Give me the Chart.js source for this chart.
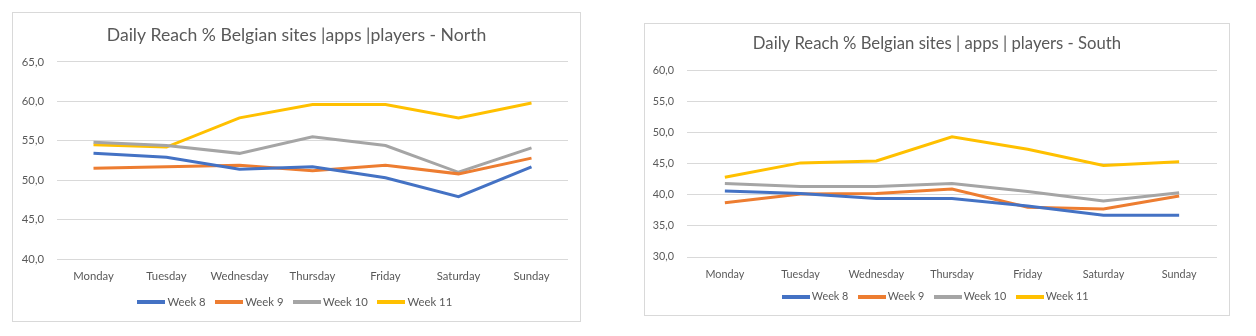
<!DOCTYPE html>
<html>
<head>
<meta charset="utf-8">
<script src="https://cdn.jsdelivr.net/npm/chart.js@4"></script>
<style>
  body { margin: 0; background: #fff; width: 1256px; height: 336px; position: relative; overflow: hidden; }
  .chartBox { position: absolute; border: 1px solid #d9d9d9; box-sizing: border-box; background: #fff; }
  #northBox { left: 12px; top: 12px; width: 569px; height: 310px; }
  #southBox { left: 644px; top: 23px; width: 586px; height: 293px; }
</style>
</head>
<body>
<div class="chartBox" id="northBox"><canvas id="north"></canvas></div>
<div class="chartBox" id="southBox"><canvas id="south"></canvas></div>
<script>
const days = ["Monday", "Tuesday", "Wednesday", "Thursday", "Friday", "Saturday", "Sunday"];
const weeks = ["Week 8", "Week 9", "Week 10", "Week 11"];
const colors = ["#4472C4", "#ED7D31", "#A5A5A5", "#FFC000"];

const northWeek8 = [53.4, 52.9, 51.4, 51.7, 50.3, 47.9, 51.7];
const northWeek9 = [51.5, 51.7, 51.9, 51.2, 51.9, 50.8, 52.8];
const northWeek10 = [54.8, 54.4, 53.4, 55.5, 54.4, 51.0, 54.1];
const northWeek11 = [54.5, 54.2, 57.9, 59.6, 59.6, 57.9, 59.8];

const southWeek8 = [40.6, 40.2, 39.4, 39.4, 38.2, 36.7, 36.7];
const southWeek9 = [38.7, 40.1, 40.2, 40.9, 38.0, 37.7, 39.8];
const southWeek10 = [41.8, 41.3, 41.3, 41.8, 40.5, 39.0, 40.3];
const southWeek11 = [42.8, 45.1, 45.4, 49.3, 47.3, 44.7, 45.3];

const textColor = "#595959";
const fontFamily = "Lato, 'Open Sans', sans-serif";

// legend marker: a short thick line, drawn as a small canvas
function lineMarker(color) {
  const c = document.createElement("canvas");
  c.width = 28;
  c.height = 4;
  const g = c.getContext("2d");
  g.fillStyle = color;
  g.fillRect(0, 0, 28, 4);
  return c;
}

// moves the legend to a fixed y after layout
const legendShift = {
  id: "legendShift",
  afterLayout(chart, args, opts) {
    if (opts.top == null) return;
    const h = chart.legend.height;
    chart.legend.top = opts.top;
    chart.legend.bottom = opts.top + h;
  }
};

function makeChart(id, title, series, yMin, yMax, lay) {
  const ctx = document.getElementById(id).getContext("2d");
  const fs = lay.fontSize;
  return new Chart(ctx, {
    type: "line",
    plugins: [legendShift],
    data: {
      labels: days,
      datasets: series.map((values, i) => ({
        label: weeks[i],
        data: values,
        borderColor: colors[i],
        backgroundColor: colors[i],
        borderWidth: 3,
        pointRadius: 0,
        pointStyle: lineMarker(colors[i]),
        tension: 0
      }))
    },
    options: {
      responsive: true,
      maintainAspectRatio: false,
      animation: false,
      layout: { padding: 0 },
      plugins: {
        title: {
          display: true,
          text: title,
          color: textColor,
          font: { family: fontFamily, size: lay.titleSize, weight: "normal" },
          padding: { top: lay.titleTop, bottom: lay.titleBottom }
        },
        legend: {
          position: "bottom",
          maxHeight: 30,
          labels: {
            color: textColor,
            font: { family: fontFamily, size: fs },
            usePointStyle: true,
            pointStyleWidth: 21,
            padding: 13
          }
        },
        legendShift: { top: lay.legendCenter - 13 - fs / 2 },
        tooltip: { enabled: false }
      },
      scales: {
        x: {
          offset: true,
          grid: { display: false },
          border: { display: false },
          ticks: { color: textColor, font: { family: fontFamily, size: fs }, padding: 3, maxRotation: 0 },
          afterFit: s => { s.height = lay.xHeight; }
        },
        y: {
          min: yMin,
          max: yMax,
          grid: { color: "#d9d9d9", lineWidth: 1, drawTicks: false },
          border: { display: false },
          ticks: {
            stepSize: 5,
            color: textColor,
            font: { family: fontFamily, size: fs },
            padding: 13,
            callback: v => v.toFixed(1).replace(".", ",")
          },
          afterFit: s => { s.width = lay.yWidth; }
        },
        // empty right axis, only keeps a margin so the title stays centred on the box
        yRight: {
          position: "right",
          min: yMin,
          max: yMax,
          grid: { drawOnChartArea: false, drawTicks: false },
          border: { display: false },
          ticks: { display: false },
          afterFit: s => { s.width = lay.right; }
        }
      }
    }
  });
}

makeChart("north", "Daily Reach % Belgian sites |apps |players - North",
  [northWeek8, northWeek9, northWeek10, northWeek11], 40, 65,
  { fontSize: 11.3, titleSize: 17.6, right: 12, titleTop: 11.4, titleBottom: 16.4,
    xHeight: 32, yWidth: 44, legendCenter: 289 });

makeChart("south", "Daily Reach % Belgian sites | apps | players - South",
  [southWeek8, southWeek9, southWeek10, southWeek11], 30, 60,
  { fontSize: 10.8, titleSize: 16.7, right: 12, titleTop: 10, titleBottom: 16,
    xHeight: 28, yWidth: 42, legendCenter: 273 });
</script>
</body>
</html>
